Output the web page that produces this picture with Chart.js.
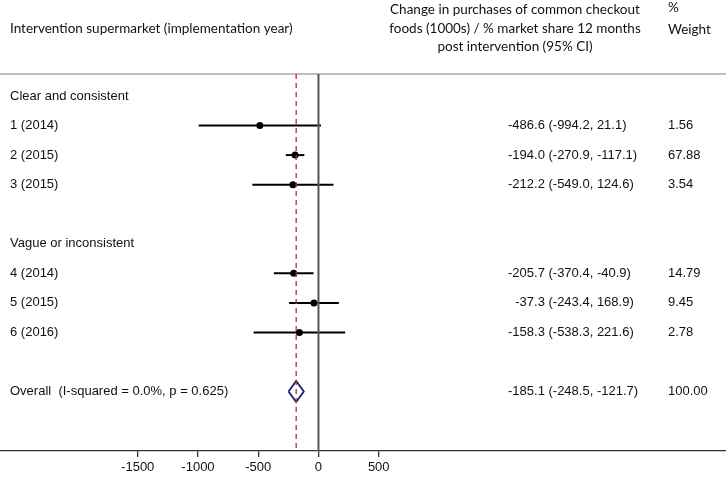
<!DOCTYPE html>
<html>
<head>
<meta charset="utf-8">
<script src="https://cdn.jsdelivr.net/npm/chart.js@4.4.1/dist/chart.umd.min.js"></script>
<style>
  html, body { margin: 0; padding: 0; background: #fff; }
  #wrap { width: 726px; height: 477px; }
</style>
</head>
<body>
<div id="wrap"><canvas id="forest"></canvas></div>
<script>
// ── Data ─────────────────────────────────────────────────────────────────────
const studies   = ['1 (2014)', '2 (2015)', '3 (2015)', '4 (2014)', '5 (2015)', '6 (2016)'];
const studyRow  = [1, 2, 3, 6, 7, 8];
const est       = [-486.6, -194.0, -212.2, -205.7, -37.3, -158.3];
const lo        = [-994.2, -270.9, -549.0, -370.4, -243.4, -538.3];
const hi        = [21.1, -117.1, 124.6, -40.9, 168.9, 221.6];
const weights   = ['1.56', '67.88', '3.54', '14.79', '9.45', '2.78'];
const groups    = ['Clear and consistent', 'Vague or inconsistent'];
const groupRow  = [0, 5];
const overallLabel = 'Overall  (I-squared = 0.0%, p = 0.625)';
const overallRow   = 10;
const overallCI    = [-248.5, -185.1, -121.7];   // lo, est, hi
const overallWeight = '100.00';
const xTicks    = [-1500, -1000, -500, 0, 500];

// ── Layout ───────────────────────────────────────────────────────────────────
const Y_MIN = -0.743, Y_MAX = 12.01, DIAMOND_H = 0.355;
const ROW_FONT = '13px "Liberation Sans", Arial, sans-serif';
const HEAD_FONT = '13.5px Lato, "Open Sans", sans-serif';
const fmt = v => v.toFixed(1);
const ciText = (e, l, h) => fmt(e) + ' (' + fmt(l) + ', ' + fmt(h) + ')';

const datasets = [];
// zero line
datasets.push({ data: [{x: 0, y: Y_MIN}, {x: 0, y: Y_MAX}], showLine: true,
  borderColor: '#555', borderWidth: 2, pointRadius: 0 });
// overall estimate, dashed
datasets.push({ data: [{x: overallCI[1], y: Y_MIN}, {x: overallCI[1], y: Y_MAX}], showLine: true,
  borderColor: '#8e3b4c', borderWidth: 1.3, borderDash: [5, 4], pointRadius: 0 });
// confidence intervals
studies.forEach((s, i) => datasets.push({
  data: [{x: lo[i], y: studyRow[i]}, {x: hi[i], y: studyRow[i]}], showLine: true,
  borderColor: '#000', borderWidth: 2, pointRadius: 0
}));
// point estimates
datasets.push({ data: est.map((v, i) => ({x: v, y: studyRow[i]})),
  pointRadius: 3.5, pointBackgroundColor: '#000', pointBorderColor: '#000', borderWidth: 0 });
// overall diamond
datasets.push({ data: [
    {x: overallCI[0], y: overallRow}, {x: overallCI[1], y: overallRow - DIAMOND_H},
    {x: overallCI[2], y: overallRow}, {x: overallCI[1], y: overallRow + DIAMOND_H},
    {x: overallCI[0], y: overallRow}],
  showLine: true, borderColor: '#1c1c74', borderWidth: 1.8, pointRadius: 0, tension: 0 });

// ── Text columns ─────────────────────────────────────────────────────────────
const textPlugin = {
  id: 'forestText',
  beforeDatasetsDraw(chart) {
    const ctx = chart.ctx, top = chart.chartArea.top;
    ctx.save();
    ctx.strokeStyle = '#aaa'; ctx.lineWidth = 1.5;
    ctx.beginPath(); ctx.moveTo(0, top); ctx.lineTo(chart.width, top); ctx.stroke();
    ctx.restore();
  },
  afterDraw(chart) {
    const ctx = chart.ctx, y = chart.scales.y;
    ctx.save();
    ctx.fillStyle = '#111'; ctx.textBaseline = 'middle';
    // headers
    ctx.font = HEAD_FONT; ctx.textAlign = 'left';
    ctx.fillText('Intervention supermarket (implementation year)', 10, 29);
    ctx.textAlign = 'center';
    ctx.fillText('Change in purchases of common checkout', 515, 10);
    ctx.fillText('foods (1000s) / % market share 12 months', 515, 29);
    ctx.fillText('post intervention (95% CI)', 515, 47);
    ctx.textAlign = 'left';
    ctx.fillText('%', 668, 8);
    ctx.fillText('Weight', 668, 30);
    // rows
    ctx.font = ROW_FONT;
    groups.forEach((g, i) => ctx.fillText(g, 10, y.getPixelForValue(groupRow[i])));
    const pad = e => ctx.measureText('-000.0').width - ctx.measureText(fmt(e)).width;
    studies.forEach((s, i) => {
      const py = y.getPixelForValue(studyRow[i]);
      ctx.fillText(s, 10, py);
      ctx.fillText(ciText(est[i], lo[i], hi[i]), 508 + pad(est[i]), py);
      ctx.fillText(weights[i], 668, py);
    });
    const oy = y.getPixelForValue(overallRow);
    ctx.fillText(overallLabel, 10, oy);
    ctx.fillText(ciText(overallCI[1], overallCI[0], overallCI[2]), 508 + pad(overallCI[1]), oy);
    ctx.fillText(overallWeight, 668, oy);
    ctx.restore();
  }
};

new Chart(document.getElementById('forest'), {
  type: 'scatter',
  data: { datasets },
  options: {
    responsive: true, maintainAspectRatio: false, animation: false,
    layout: { autoPadding: false, padding: { top: 74, left: 0, right: 0, bottom: 0 } },
    plugins: { legend: { display: false }, tooltip: { enabled: false } },
    elements: { line: { tension: 0 } },
    scales: {
      x: {
        type: 'linear', min: -2643, max: 3382,
        afterBuildTicks: s => { s.ticks = xTicks.map(v => ({ value: v })); },
        afterFit: s => { s.height = 26; },
        grid: { drawOnChartArea: false, drawTicks: true, tickLength: 6, color: '#333', lineWidth: 1.3 },
        border: { display: true, color: '#333', width: 1.3 },
        ticks: { font: { family: '"Liberation Sans", Arial, sans-serif', size: 13 }, color: '#111',
                 padding: 3, maxRotation: 0, autoSkip: false, callback: v => String(v) }
      },
      y: { type: 'linear', display: false, reverse: true, min: Y_MIN, max: Y_MAX }
    }
  },
  plugins: [textPlugin]
});
</script>
</body>
</html>
